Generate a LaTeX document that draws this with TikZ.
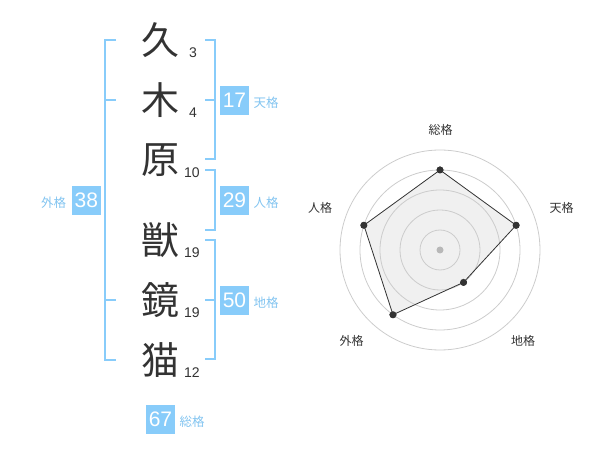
\documentclass[tikz,border=0pt]{standalone}
\usepackage{fontspec}
\setmainfont{Liberation Sans}
\newfontfamily\cjk{Noto Sans CJK JP}
\definecolor{sky}{RGB}{136,204,250}
\definecolor{skytext}{RGB}{130,196,240}
\definecolor{ink}{RGB}{51,51,51}
\definecolor{ring}{RGB}{204,204,204}
\definecolor{area}{RGB}{240,240,240}
\tikzset{
  kanji/.style={inner sep=0pt, text=ink, font=\cjk\fontsize{38}{38}\selectfont},
  strokes/.style={inner sep=0pt, text=ink, font=\fontsize{14}{14}\selectfont},
  valbox/.style={fill=sky, text=white, minimum width=29pt, minimum height=29pt, inner sep=0pt, font=\fontsize{21}{21}\selectfont},
  kakulabel/.style={inner sep=0pt, text=skytext, font=\cjk\fontsize{12.5}{12.5}\selectfont},
  bracket/.style={draw=sky, line width=2pt},
  axislabel/.style={inner sep=0pt, text=ink, font=\cjk\fontsize{12}{12}\selectfont},
  ringline/.style={draw=ring, line width=0.8pt},
  dot/.style={circle, fill=ink, inner sep=0pt, minimum size=7pt},
}
\begin{document}
\begin{tikzpicture}[x=1pt,y=-1pt]
\useasboundingbox (0,0) rectangle (600,470);
% characters
\node[kanji] (k1) at (160,40) {久};
\node[kanji] (k2) at (160,100) {木};
\node[kanji] (k3) at (160,160) {原};
\node[kanji] (k4) at (160,240) {獣};
\node[kanji] (k5) at (160,300) {鏡};
\node[kanji] (k6) at (160,360) {猫};
% stroke counts
\node[strokes] (s1) at (193,53) {3};
\node[strokes] (s2) at (193,113) {4};
\node[strokes] (s3) at (192,173) {10};
\node[strokes] (s4) at (192,253) {19};
\node[strokes] (s5) at (192,313) {19};
\node[strokes] (s6) at (192,373) {12};
% left bracket (外格)
\draw[bracket] (116,40) -- (105,40) -- (105,360) -- (116,360);
\draw[bracket] (105,100) -- (116,100);
\draw[bracket] (105,300) -- (116,300);
% right brackets
\draw[bracket] (205,40) -- (214.5,40) -- (214.5,159.5) -- (205,159.5);
\draw[bracket] (205,100) -- (214.5,100);
\draw[bracket] (205,170) -- (214.5,170) -- (214.5,230) -- (205,230);
\draw[bracket] (205,240) -- (214.5,240) -- (214.5,359.5) -- (205,359.5);
\draw[bracket] (205,300) -- (214.5,300);
% value boxes
\node[valbox] (gai) at (86.3,200.3) {38};
\node[kakulabel] (gail) at (53.5,202.5) {外格};
\node[valbox] (ten) at (234.5,100.2) {17};
\node[kakulabel] (tenl) at (266,102.5) {天格};
\node[valbox] (jin) at (234.5,200.2) {29};
\node[kakulabel] (jinl) at (266,202.5) {人格};
\node[valbox] (chi) at (234.5,300.2) {50};
\node[kakulabel] (chil) at (266,302.5) {地格};
\node[valbox] (sou) at (160.5,419.5) {67};
\node[kakulabel] (soul) at (192,421.5) {総格};
% radar chart
\coordinate (c) at (440,250);
\node[dot] (p1) at ([shift={(90:80pt)}]c) {};
\node[dot] (p2) at ([shift={(18:80pt)}]c) {};
\node[dot] (p3) at ([shift={(-54:40pt)}]c) {};
\node[dot] (p4) at ([shift={(-126:80pt)}]c) {};
\node[dot] (p5) at ([shift={(162:80pt)}]c) {};
\fill[area] (p1.center) -- (p2.center) -- (p3.center) -- (p4.center) -- (p5.center) -- cycle;
\foreach \r in {20,40,60,80,100} \draw[ringline] (c) circle (\r pt);
\draw[ink, line width=0.8pt, line join=round] (p1.center) -- (p2.center) -- (p3.center) -- (p4.center) -- (p5.center) -- cycle;
\foreach \p in {p1,p2,p3,p4,p5} \fill[ink] (\p) circle (3.5pt);
\fill[ring!90!black] (c) circle (3.5pt);
\node[axislabel] (l1) at (440.7,130) {総格};
\node[axislabel] (l2) at (561.7,208) {天格};
\node[axislabel] (l3) at (523,341) {地格};
\node[axislabel] (l4) at (351.7,341) {外格};
\node[axislabel] (l5) at (320,208) {人格};
\end{tikzpicture}
\end{document}
